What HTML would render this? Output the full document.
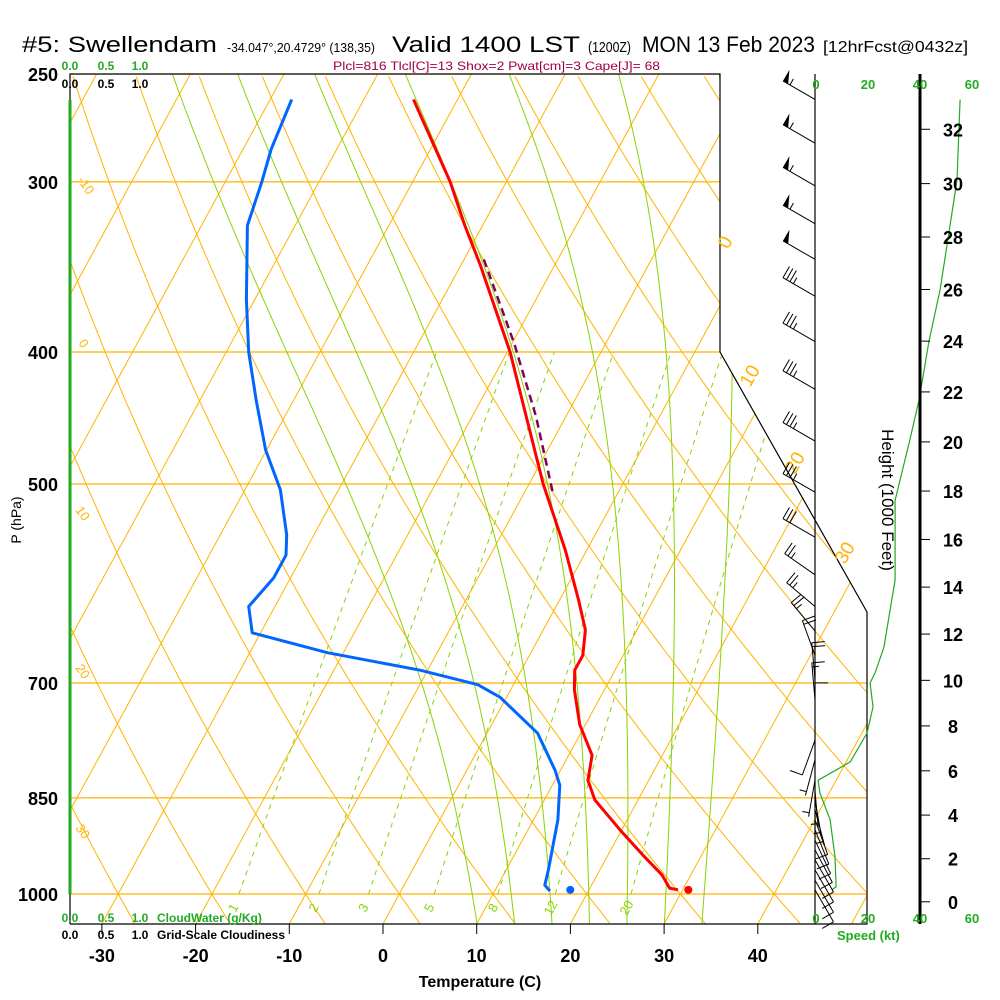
<!DOCTYPE html>
<html><head><meta charset="utf-8"><title>Skew-T Swellendam</title>
<style>
html,body{margin:0;padding:0;background:#fff;}
svg{display:block;font-family:"Liberation Sans",Arial,sans-serif;}
</style></head>
<body>
<svg id="chart" width="1000" height="1000" viewBox="0 0 1000 1000" xmlns="http://www.w3.org/2000/svg">
<rect x="0" y="0" width="1000" height="1000" fill="#fff"/>
<defs>
<clipPath id="skclip"><polygon points="70,74 720,74 720,352 867,612 867,924 70,924"/></clipPath>
</defs>
<g>
<text x="22" y="52" font-size="22" textLength="195" lengthAdjust="spacingAndGlyphs">#5: Swellendam</text>
<text x="227" y="52" font-size="13" textLength="148" lengthAdjust="spacingAndGlyphs">-34.047°,20.4729° (138,35)</text>
<text x="392" y="52" font-size="22" textLength="188" lengthAdjust="spacingAndGlyphs">Valid 1400 LST</text>
<text x="588" y="52" font-size="15" textLength="43" lengthAdjust="spacingAndGlyphs">(1200Z)</text>
<text x="642" y="52" font-size="22" textLength="173" lengthAdjust="spacingAndGlyphs">MON 13 Feb 2023</text>
<text x="823" y="52" font-size="16" textLength="145" lengthAdjust="spacingAndGlyphs">[12hrFcst@0432z]</text>
</g>
<text x="333" y="70" font-size="12" fill="#a0004a" textLength="327" lengthAdjust="spacingAndGlyphs">Plcl=816 Tlcl[C]=13 Shox=2 Pwat[cm]=3 Cape[J]= 68</text>
<g id="bg" clip-path="url(#skclip)"></g>
<g id="fg"></g>
</svg>
<script>
// ---------- data ----------
const tempP = [261,300,323,345,400,449,500,559,608,640,668,685,708,751,791,825,853,897,936,968,990,993];
const tempT = [-44.7,-36.0,-31.9,-28.0,-19.7,-13.9,-8.5,-2.3,2.0,4.5,5.7,5.7,6.8,9.4,12.5,13.5,15.4,19.8,23.7,26.9,28.5,29.5];
const dewP = [261,284,300,323,366,400,434,472,505,545,564,586,615,643,665,685,702,717,762,811,832,882,960,985,995];
const dewT = [-57.7,-57.0,-56.1,-55.1,-50.9,-47.6,-44.0,-40.1,-36.2,-32.9,-31.8,-31.8,-32.8,-30.9,-21.7,-10.8,-3.8,-0.7,5.4,9.4,10.8,12.6,14.5,15.0,15.9];
const parcelP = [342,394,446,507];
const parcelT = [-27.9,-19.8,-13.2,-7.0];
const sfcTemp = 30.6;
const sfcDew = 18.0;
const sfcP = 993;
const windP = [261,281,302,322,342,364,393,426,465,507,547,583,615,641,668,696,720,745,771,797,825,840,853,867,882,897,913,928,944,960,977,993];
const windSpd = [55,55,55,55,52,35,35,35,35,35,30,25,25,25,22,20,15,12,8,5,3,5,5,5,8,8,10,10,10,10,12,12];
const windDir = [300,300,300,300,300,300,300,300,300,300,300,305,310,320,340,355,355,0,200,195,190,175,170,165,160,158,155,152,150,150,150,150];
const profP = [261,299,330,360,393,434,464,514,588,659,688,700,729,762,800,825,843,882,939,988,993];
const profSpd = [55.8,54.6,51.2,48.1,43.8,40,36.5,30.8,30.8,26.5,23.1,21.2,22.3,20,13.5,1.2,1.9,5.8,7.7,8.1,6.5];
const tempTicks = [-30,-20,-10,0,10,20,30,40];
const presTicks = [250,300,400,500,700,850,1000];
const heightTicks = [0,2,4,6,8,10,12,14,16,18,20,22,24,26,28,30,32];
const speedTicks = [0,20,40,60];
const mixRatios = [1,2,3,5,8,12,20];
const moistStarts = [10,14,18,22,26,30,34];
const dryThetas = [-40,-30,-20,-10,0,10,20,30,40,50,60,70,80,90,100,110,120,130,140,150,160];
const isoTemps = [-130,-120,-110,-100,-90,-80,-70,-60,-50,-40,-30,-20,-10,0,10,20,30,40,50];

// ---------- axes ----------
const NS = "http://www.w3.org/2000/svg";
function Y(p){ return 894 - 591.5*Math.log(1000/p); }
function X(T,p){ return 383 + 9.37*T + 0.545*(924 - Y(p)); }
function SX(s){ return 815 + 2.6*s; }
function HY(kft){ const z=kft*304.8; const p=1013.25*Math.pow(1-2.25577e-5*z,5.25588); return Y(p); }
const bg = document.getElementById('bg');
const fg = document.getElementById('fg');
function mk(tag, attrs, parent){ const e=document.createElementNS(NS,tag); for(const k in attrs) e.setAttribute(k,attrs[k]); (parent||fg).appendChild(e); return e; }
function pathFrom(pts){ return 'M'+pts.map(q=>q[0].toFixed(1)+','+q[1].toFixed(1)).join('L'); }
function txt(x,y,s,attrs,parent){ const e=mk('text',Object.assign({x:x,y:y},attrs),parent); e.textContent=s; return e; }

// isobars
presTicks.forEach(p=>{
  const l = mk('line',{x1:70,x2:867,y1:Y(p),y2:Y(p),stroke:'#ffb400','stroke-width':1.2},bg);
  
  
});
// isotherms
isoTemps.forEach(t=>{
  const l = mk('line',{x1:X(t,1051),y1:Y(1051),x2:X(t,250),y2:Y(250),stroke:'#ffb400','stroke-width':1},bg);
  
  
});
// dry adiabats
dryThetas.forEach(th=>{
  const pts=[];
  for(let p=1051;p>=245;p-=10){ const T=(th+273.15)*Math.pow(p/1000,0.2857)-273.15; pts.push([X(T,p),Y(p)]); }
  const l = mk('path',{d:pathFrom(pts),fill:'none',stroke:'#ffb400','stroke-width':1},bg);
  
  
});
// moist adiabats
function es(Tc){ return 6.112*Math.exp(17.67*Tc/(Tc+243.5)); }
moistStarts.forEach(t0=>{
  let T=t0+273.15; const pts=[];
  for(let p=1051;p>=245;p-=2){
    pts.push([X(T-273.15,p),Y(p)]);
    const e=es(T-273.15); const rs=0.622*e/(p-e);
    const dTdp=(1/p)*(287*T+2.5e6*rs)/(1004+(2.5e6*2.5e6*rs*0.622)/(287*T*T));
    T -= dTdp*2;
  }
  const l = mk('path',{d:pathFrom(pts),fill:'none',stroke:'#88d400','stroke-width':1},bg);
  
  
});
// mixing ratio lines
function tdw(w,p){ const e=w*p/(622+w); const a=Math.log(e/6.112); return 243.5*a/(17.67-a); }
mixRatios.forEach(w=>{
  const pts=[]; for(let p=1000;p>=400;p-=10) pts.push([X(tdw(w,p),p),Y(p)]);
  const l = mk('path',{d:pathFrom(pts),fill:'none',stroke:'#88d400','stroke-width':1,'stroke-dasharray':'5,5'},bg);
  
  
  const lx = X(tdw(w,1025),1025);
  const lb = txt(lx,912,String(w),{'font-size':13,fill:'#88d400','text-anchor':'middle',transform:'rotate(-60 '+lx+' 908)'});
  
  
});

// frame
const frame = mk('path',{d:'M70,924 L70,74 L720,74 L720,352 L867,612 L867,924 L70,924',fill:'none',stroke:'#000','stroke-width':1.2});


const zeroLine = mk('line',{x1:815,y1:74,x2:815,y2:924,stroke:'#000','stroke-width':1.2});


const cloudLine = mk('line',{x1:70,y1:100,x2:70,y2:894,stroke:'#22aa22','stroke-width':3});



// isotherm/adiabat labels
[['-10',77,180],['0',78,343],['10',75,510],['20',75,668],['30',75,828]].forEach(a=>{
  const e = txt(a[1],a[2],a[0],{'font-size':13,fill:'#ffb400',transform:'rotate(55 '+a[1]+' '+a[2]+')'});
  
  
});
[['0',728,250],['10',750,388],['20',795,475],['30',845,565]].forEach(a=>{
  const e = txt(a[1],a[2],a[0],{'font-size':19,fill:'#ffb400',transform:'rotate(-60 '+a[1]+' '+a[2]+')'});
  
  
});

// profiles
function prof(P,T,color,w,name,dash){
  const pts=P.map((p,i)=>[X(T[i],p),Y(p)]);
  const a={d:pathFrom(pts),fill:'none',stroke:color,'stroke-width':w,'stroke-linejoin':'round'};
  if(dash) a['stroke-dasharray']=dash;
  const e=mk('path',a);
  
  
}
prof(parcelP,parcelT,'#800060',2.5,'parcel-path','8,5');
prof(tempP,tempT,'#ff0000',3,'temperature-line');
prof(dewP,dewT,'#0066ff',3,'dewpoint-line');
const sd1 = mk('circle',{cx:X(sfcTemp,sfcP),cy:Y(sfcP),r:4,fill:'#ff0000'});


const sd2 = mk('circle',{cx:X(sfcDew,sfcP),cy:Y(sfcP),r:4,fill:'#0066ff'});



// wind speed profile
const sp = mk('path',{d:pathFrom(profP.map((p,i)=>[SX(profSpd[i]),Y(p)])),fill:'none',stroke:'#22aa22','stroke-width':1.2});



// wind barbs
windP.forEach((p,i)=>{
  const g = mk('g',{});
  
  
  const d=windDir[i]*Math.PI/180; const ux=Math.sin(d), uy=-Math.cos(d);
  const fx=-uy, fy=ux; const L=37;
  const x0=815, y0=Y(p); const x1=x0+ux*L, y1=y0+uy*L;
  mk('line',{x1:x0,y1:y0,x2:x1,y2:y1,stroke:'#000','stroke-width':1},g);
  let s=Math.round(windSpd[i]/5)*5; let pos=0;
  while(s>=50){ const ax=x1-ux*pos, ay=y1-uy*pos; const bx=x1-ux*(pos+6), by=y1-uy*(pos+6);
    mk('polygon',{points:ax+','+ay+' '+(ax+fx*13)+','+(ay+fy*13)+' '+bx+','+by,fill:'#000'},g); pos+=8; s-=50; }
  while(s>=10){ const ax=x1-ux*pos, ay=y1-uy*pos; mk('line',{x1:ax,y1:ay,x2:ax+fx*13,y2:ay+fy*13,stroke:'#000','stroke-width':1},g); pos+=4; s-=10; }
  if(s>=5){ if(pos===0) pos=4; const ax=x1-ux*pos, ay=y1-uy*pos; mk('line',{x1:ax,y1:ay,x2:ax+fx*7,y2:ay+fy*7,stroke:'#000','stroke-width':1},g); }
});

// pressure axis
presTicks.forEach(p=>{
  const e=txt(58,Y(p)+7,String(p),{'font-size':18,'font-weight':'bold','text-anchor':'end'});
  
  
});
const pt = txt(21,520,'P (hPa)',{'font-size':14,'text-anchor':'middle',transform:'rotate(-90 21 520)'});



// temperature axis
tempTicks.forEach(t=>{
  const x=383+9.37*t;
  const tk=mk('line',{x1:x,y1:924,x2:x,y2:934,stroke:'#000','stroke-width':1});
  
  
  const e=txt(x,962,String(t),{'font-size':18,'font-weight':'bold','text-anchor':'middle'});
  
  
});
const xt = txt(480,987,'Temperature (C)',{'font-size':16,'font-weight':'bold','text-anchor':'middle'});



// height axis
const ha = mk('line',{x1:920,y1:74,x2:920,y2:924,stroke:'#000','stroke-width':3});


heightTicks.forEach(h=>{
  const y=HY(h);
  const tk=mk('line',{x1:920,y1:y,x2:930,y2:y,stroke:'#000','stroke-width':1});
  
  
  const e=txt(953,y+7,String(h),{'font-size':18,'font-weight':'bold','text-anchor':'middle'});
  
  
});
const htit = txt(882,500,'Height (1000 Feet)',{'font-size':17,'text-anchor':'middle',transform:'rotate(90 882 500)'});



// speed axis labels
speedTicks.forEach(s=>{
  [89,923].forEach(y=>{
    const e=txt(SX(s)+1,y,String(s),{'font-size':13,'font-weight':'bold',fill:'#22aa22','text-anchor':'middle'});
    
    
  });
});
const st = txt(837,940,'Speed (kt)',{'font-size':13,'font-weight':'bold',fill:'#22aa22'});



// cloud scale labels
[['0.0',70],['0.5',106],['1.0',140]].forEach(a=>{
  [[70,'#22aa22'],[88,'#000'],[922,'#22aa22'],[939,'#000']].forEach(r=>{
    const e=txt(a[1],r[0],a[0],{'font-size':12,'font-weight':'bold',fill:r[1],'text-anchor':'middle'});
    
    
  });
});
const cw = txt(157,922,'CloudWater (g/Kg)',{'font-size':12,'font-weight':'bold',fill:'#22aa22'});


const gc = txt(157,939,'Grid-Scale Cloudiness',{'font-size':12,'font-weight':'bold',fill:'#000'});


</script>
</body></html>
